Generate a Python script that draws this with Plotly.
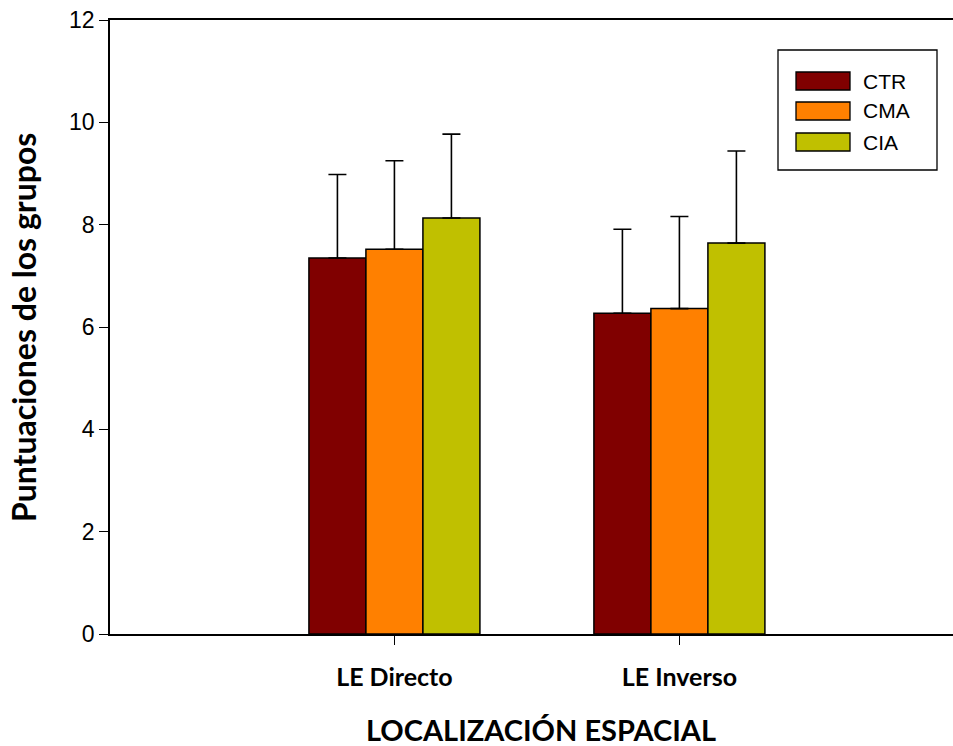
import plotly.graph_objects as go

# Group scores by spatial-location task
categories = ["LE Directo", "LE Inverso"]
groups = ["CTR", "CMA", "CIA"]
means = {
    "CTR": [7.35, 6.27],
    "CMA": [7.52, 6.36],
    "CIA": [8.13, 7.64],
}
errors = {
    "CTR": [1.63, 1.64],
    "CMA": [1.73, 1.80],
    "CIA": [1.64, 1.80],
}
colors = {"CTR": "#800000", "CMA": "#FF8000", "CIA": "#C0C000"}
y_ticks = [0, 2, 4, 6, 8, 10, 12]

x_pos = list(range(len(categories)))

fig = go.Figure()
for g in groups:
    fig.add_trace(go.Bar(
        name=g,
        x=x_pos,
        y=means[g],
        marker=dict(color=colors[g], line=dict(color="black", width=1.5)),
        error_y=dict(
            type="data",
            array=errors[g],
            arrayminus=[0] * len(categories),
            symmetric=False,
            color="black",
            thickness=1.6,
            width=9,
        ),
        showlegend=False,
    ))

# Legend box drawn with wide swatches
legend_shapes = [dict(
    type="rect", xref="paper", yref="paper",
    x0=(778 - 110) / 843, x1=(937 - 110) / 843,
    y0=(634 - 170) / 614, y1=(634 - 50) / 614,
    line=dict(color="black", width=1.3), fillcolor="white",
)]
legend_ann = []
row_tops = [72, 102, 133]
for g, top in zip(groups, row_tops):
    legend_shapes.append(dict(
        type="rect", xref="paper", yref="paper",
        x0=(796 - 110) / 843, x1=(850 - 110) / 843,
        y0=(634 - (top + 18)) / 614, y1=(634 - top) / 614,
        line=dict(color="black", width=1.3), fillcolor=colors[g],
    ))
    legend_ann.append(dict(
        text=g, xref="paper", yref="paper",
        x=(861 - 110) / 843, y=(634 - (top + 9)) / 614,
        xanchor="left", yanchor="middle", showarrow=False,
        font=dict(family="Liberation Sans, Arial", size=21, color="black"),
    ))

fig.update_layout(
    width=953, height=746,
    margin=dict(l=110, r=0, t=20, b=112),
    paper_bgcolor="white", plot_bgcolor="white",
    barmode="group", bargap=0.4, bargroupgap=0,
    shapes=legend_shapes,
    annotations=legend_ann + [
        dict(text="<b>LOCALIZACIÓN ESPACIAL</b>", xref="paper", yref="paper",
             x=(541 - 110) / 843, y=(634 - 745) / 614, xanchor="center", yanchor="bottom",
             yshift=-4,
             showarrow=False, font=dict(family="Lato, Carlito, sans-serif", size=29, color="black")),
        dict(text="<b>Puntuaciones de los grupos</b>", xref="paper", yref="paper",
             x=(23 - 110) / 843, y=(634 - 328) / 614, xanchor="center", yanchor="middle",
             textangle=-90, showarrow=False,
             font=dict(family="Lato, Carlito, sans-serif", size=32, color="black")),
    ],
    xaxis=dict(
        range=[-0.998, 1.96],
        tickvals=x_pos, ticktext=[f"<b>{c}</b>" for c in categories],
        tickfont=dict(family="Lato, Carlito, sans-serif", size=25, color="black"),
        ticks="outside", ticklen=9, tickwidth=1.3, tickcolor="black",
        ticklabelstandoff=11,
        showline=True, linecolor="black", linewidth=1.6, mirror=True,
        showgrid=False, zeroline=False,
    ),
    yaxis=dict(
        range=[0, 12],
        tickvals=y_ticks,
        tickfont=dict(family="Liberation Sans, Arial", size=23, color="black"),
        ticks="outside", ticklen=9, tickwidth=1.3, tickcolor="black",
        showline=True, linecolor="black", linewidth=1.6,
        showgrid=False, zeroline=False,
    ),
)

fig.write_html("out.html")
